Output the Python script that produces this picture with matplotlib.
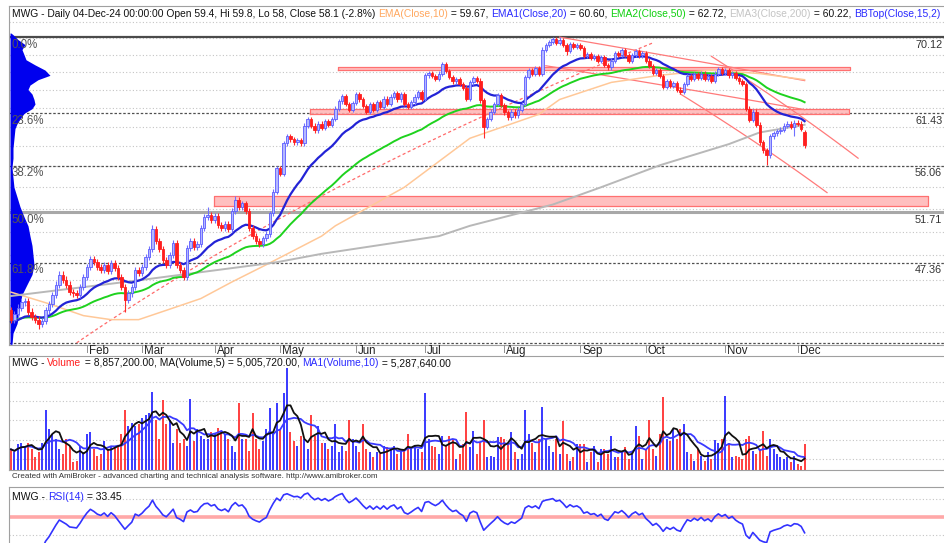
import numpy as np
import pandas as pd
import matplotlib
matplotlib.use("Agg")
import matplotlib.pyplot as plt
from matplotlib.transforms import blended_transform_factory

W, H, DPI = 944, 543, 100

# ---- daily closes, 02-Jan-24 .. 04-Dec-24 (HOSE trading days) ----
closes = [
    # Jan
    42.9, 43.3, 43.8, 44.2, 44.3, 43.5, 43.1, 42.9, 42.6, 42.8, 43.6, 44.1, 44.8, 45.6, 46.4, 46.0,
    45.6, 45.0, 44.9, 44.8, 45.4, 46.2,
    # Feb
    47.0, 47.7, 47.4, 47.0, 46.8, 47.2, 46.7, 47.3, 46.9, 46.2, 45.4, 44.4, 44.9, 45.4, 46.8, 46.5,
    # Mar
    47.0, 47.8, 48.5, 50.2, 49.2, 48.5, 47.6, 47.2, 48.0, 49.0, 47.2, 46.8, 46.2, 48.6, 49.2, 48.7,
    48.9, 50.3, 51.3, 51.5, 51.0,
    # Apr
    51.4, 50.6, 50.3, 50.7, 50.2, 51.8, 52.8, 52.2, 52.5, 51.8, 50.3, 49.6, 49.2, 48.9, 49.4, 49.8,
    51.6, 53.6, 55.8,
    # May
    55.3, 58.3, 59.0, 58.7, 58.4, 58.6, 58.3, 60.1, 60.8, 60.1, 59.6, 60.3, 59.9, 60.6, 60.2, 60.8,
    61.9, 62.7, 63.3, 62.4, 61.8, 62.5,
    # Jun
    63.5, 62.9, 62.2, 61.6, 62.4, 61.8, 62.6, 62.1, 63.0, 62.4, 63.2, 63.6, 62.9, 63.5, 62.4, 62.1,
    62.6, 63.2, 63.7, 63.0,
    # Jul
    65.6, 65.9, 65.5, 65.2, 65.8, 66.9, 66.1, 65.4, 64.9, 65.2, 64.6, 64.2, 63.0, 64.8, 65.3, 65.0,
    62.8, 60.0, 60.8, 61.6, 62.4, 63.4, 62.3,
    # Aug
    61.5, 61.0, 61.6, 61.2, 61.8, 62.4, 65.4, 66.2, 65.8, 66.4, 65.8, 68.6, 69.2, 69.5, 69.9, 69.4,
    69.8, 69.2, 68.4, 69.3, 68.9, 69.2,
    # Sep
    68.8, 67.8, 68.1, 67.6, 67.8, 67.3, 67.7, 66.8, 66.5, 67.3, 68.2, 68.0, 68.5, 68.0, 67.3, 68.0,
    68.4, 67.9, 68.2,
    # Oct
    67.3, 66.7, 65.9, 66.2, 65.5, 64.3, 64.9, 64.4, 64.7, 64.0, 63.7, 64.6, 65.5, 65.2, 65.7, 65.3,
    65.8, 65.2, 65.5, 65.0, 65.8, 66.3, 65.9,
    # Nov
    66.2, 65.6, 65.9, 65.3, 64.9, 64.6, 61.9, 60.7, 61.6, 60.2, 58.4, 57.6, 57.1, 59.0, 59.3, 59.5,
    59.7, 60.1, 60.3, 60.0, 60.4,
    # Dec
    60.3, 59.8, 58.1,
]
first_open = 43.6
last_open = 59.4
long_highs = {41: 50.6, 57: 52.2, 65: 53.2, 159: 70.12}
long_lows = {8: 42.2, 33: 43.5, 137: 58.8, 161: 68.0, 219: 56.1, 227: 59.0}

# volume in millions of shares
volumes = [
    7.5, 6.7, 8.8, 9.2, 8.4, 9.2, 7.5, 5.4, 6.7, 9.2, 17.6, 12.7, 11.4, 10.1, 7.5, 6.2,
    10.1, 8.4, 4.1, 4.5, 8.4, 6.7, 11.4, 11.9, 7.5, 5.8, 6.2, 9.7, 7.5, 8.0, 8.0, 8.4,
    11.4, 17.8, 13.5, 14.4, 13.5, 14.0, 15.7, 16.5, 17.0, 22.4, 15.2, 10.1, 20.4, 14.0,
    15.2, 9.2, 12.7, 9.2, 10.1, 8.4, 20.5, 9.7, 12.7, 11.0, 10.1, 10.1, 11.9, 11.4, 13.1,
    12.3, 11.4, 10.1, 8.4, 6.7, 19.6, 10.1, 10.1, 7.1, 16.8, 10.1, 7.5, 9.7, 12.7, 18.2,
    11.9, 19.4, 12.7, 22.0, 28.5, 11.9, 9.7, 8.4, 11.0, 10.1, 7.5, 16.5, 11.0, 13.5, 9.2,
    9.2, 7.5, 8.4, 14.0, 6.7, 8.4, 7.1, 15.0, 10.1, 8.4, 6.7, 14.0, 7.5, 6.7, 5.4, 6.7,
    6.2, 8.4, 8.0, 7.5, 8.4, 6.2, 7.1, 7.5, 11.6, 7.5, 8.4, 7.5, 6.7, 22.0, 10.1, 8.4,
    8.0, 6.2, 11.0, 8.4, 11.0, 10.1, 4.9, 6.2,
    8.8, 17.1, 8.0, 12.3, 6.2, 9.2, 15.2, 5.4, 5.8, 5.6, 10.6, 10.6, 10.3, 8.6, 11.9, 6.7,
    4.9, 6.2, 17.6, 11.4, 9.2, 6.7, 10.1, 18.6, 10.1, 8.4, 6.7, 10.1, 6.2, 14.8, 6.2, 4.5,
    5.4, 8.8, 8.8, 8.8, 4.1, 6.7, 8.4, 4.1, 7.5, 7.5, 6.2, 11.0, 5.4, 5.4, 6.7, 8.0, 4.9,
    6.7, 13.5, 11.0, 4.9, 7.5, 15.2, 7.5, 5.8, 11.4, 21.0, 10.1, 9.7, 12.7, 10.1, 12.7,
    14.0, 6.7, 6.2, 4.5, 7.5, 5.8, 4.5, 6.7, 4.9, 9.9, 9.2, 10.1, 21.3, 9.2, 5.4, 5.8, 5.4,
    4.9, 10.1, 11.0, 7.1, 6.2, 7.5, 12.3, 5.8, 10.1, 7.5, 6.2, 5.4, 4.9, 5.4, 4.1, 5.8,
    3.6, 3.2, 8.86,
]

month_names = ["Feb", "Mar", "Apr", "May", "Jun", "Jul", "Aug", "Sep", "Oct", "Nov", "Dec"]
month_starts = [22, 38, 59, 78, 100, 120, 143, 165, 184, 207, 228]

# smooth overlays (bar index, price)
orange_idx = [0, 11, 21, 29, 37, 45, 55, 64, 74, 90, 94, 114, 133, 153, 159, 174, 188, 203, 217, 230]
orange_vals = [45.0, 44.1, 43.2, 42.9, 42.9, 43.6, 44.5, 45.8, 47.2, 49.6, 50.5, 54.0, 58.8, 61.3,
               62.9, 64.8, 65.6, 66.2, 65.8, 65.1]
gray_idx = [0, 36, 77, 90, 124, 133, 157, 171, 188, 208, 217, 230]
gray_vals = [44.7, 45.9, 47.4, 48.1, 49.6, 50.5, 52.4, 54.0, 56.1, 58.2, 59.4, 60.2]
ema20_seed, ema50_seed = 42.7, 42.9

fib_pcts = [0.0, 23.6, 38.2, 50.0, 61.8, 78.6]
fib_prices = [70.12, 61.43, 56.06, 51.71, 47.36, 41.18]

# support/resistance zones: start bar, end bar, low, high
zones = [(94.8, 243.2, 66.25, 66.6), (86.7, 242.9, 61.3, 61.9), (58.8, 265.8, 52.3, 53.2)]
# trend lines: (bar, price) -> (bar, price)
trend_dashed = [(19, 41.2), (186, 69.4)]
trend_lines = [
    [(159, 70.1), (230, 65.0)],
    [(155, 66.7), (230, 61.8)],
    [(203, 67.8), (245.5, 56.8)],
    [(194, 63.5), (236.5, 53.5)],
]

# volume-at-price profile (relative)
profile_prices = [70.6, 70.4, 69.8, 69.2, 68.6, 68.0, 67.4, 66.8, 66.2, 65.6, 65.1, 64.5, 64.0,
                  63.5, 62.9, 62.4, 61.9, 61.4, 60.8, 60.3, 59.8, 58.8, 57.8, 56.8, 55.9, 54.9,
                  54.0, 53.1, 52.2, 51.3, 50.5, 49.6, 48.8, 48.0, 47.2, 46.4, 45.6, 44.8, 44.1,
                  43.3, 42.6, 41.9, 41.1]
profile_vol = [1, 3, 8, 15, 12, 14, 16, 25, 35, 40, 28, 20, 18, 22, 24, 25, 22, 14, 10, 7, 5, 4,
               3, 3, 2, 3, 4, 7, 10, 14, 18, 20, 22, 23, 24, 22, 17, 12, 10, 9, 7, 3, 2]

closes = np.array(closes)
volumes = np.array(volumes)
n = len(closes)
idx = np.arange(n)
opens = np.concatenate([[first_open], closes[:-1]])
opens[-1] = last_open
highs = np.maximum(opens, closes) + 0.25
lows = np.minimum(opens, closes) - 0.25
for k, v in long_highs.items():
    highs[k] = v
for k, v in long_lows.items():
    lows[k] = v
up = closes >= opens


def ema(values, span, seed):
    k = 2.0 / (span + 1)
    out, prev = [], seed
    for v in values:
        prev = prev + k * (v - prev)
        out.append(prev)
    return np.array(out)


def rsi(values, start, period=14):
    diffs = np.diff(np.concatenate([[start], values]))
    gain = pd.Series(np.clip(diffs, 0, None)).ewm(alpha=1 / period, adjust=False).mean()
    loss = pd.Series(np.clip(-diffs, 0, None)).ewm(alpha=1 / period, adjust=False).mean()
    return (100 - 100 / (1 + gain / (loss + 1e-9))).values


ema20 = ema(closes, 20, ema20_seed)
ema50 = ema(closes, 50, ema50_seed)
vol_ma5 = pd.Series(volumes).rolling(5, min_periods=1).mean()
vol_ma10 = pd.Series(volumes).rolling(10, min_periods=1).mean()
rsi14 = rsi(closes, first_open)

plt.rcParams["font.family"] = ["Liberation Sans", "DejaVu Sans"]
fig = plt.figure(figsize=(W / DPI, H / DPI), dpi=DPI)
fig.patch.set_facecolor("white")


def fig_axes(x0, y0, x1, y1):
    return fig.add_axes([x0 / W, 1 - y1 / H, (x1 - x0) / W, (y1 - y0) / H])


XLIM = (-0.58, 270.4)
ax = fig_axes(9, 6, 944, 345)
axv = fig_axes(9, 356, 944, 470)
axr = fig_axes(9, 487, 944, 560)

for a in (ax, axv, axr):
    a.set_xlim(*XLIM)
    a.set_xticks([])
    a.set_yticks([])
    for s in a.spines.values():
        s.set_color("#a0a0a0")
        s.set_linewidth(0.8)
    a.spines["right"].set_visible(False)

# ---- price pane ----
ax.set_yscale("log")
ax.set_ylim(41.05, 74.0)
ax.yaxis.set_minor_locator(matplotlib.ticker.NullLocator())
ax.yaxis.set_major_locator(matplotlib.ticker.NullLocator())
for g in range(42, 74, 2):
    ax.axhline(g, color="#c4c4c4", lw=0.8, dashes=(1, 2), zorder=0)

for pct, p in zip(fib_pcts, fib_prices):
    if pct == 0.0:
        ax.axhline(p, color="#4a4a4a", lw=1.6, zorder=1)
    elif pct == 50.0:
        ax.axhline(p, color="#a8a8a8", lw=2.2, zorder=1)
    else:
        ax.axhline(p, color="#505050", lw=0.9, dashes=(2, 1.5), zorder=1)

xtr = blended_transform_factory(ax.transAxes, ax.transData)
prof_x = np.array(profile_vol) / max(profile_vol) * 40 / 935
ax.fill_betweenx(profile_prices, 1 / 935, 1 / 935 + prof_x, transform=xtr, color="#0000ee",
                 lw=0, zorder=2)

for pct, p in zip(fib_pcts, fib_prices):
    ax.annotate(f"{pct:.1f}%", xy=(0, p), xycoords=xtr, xytext=(2, -5.5), textcoords="offset points",
                va="center", ha="left", fontsize=8.3, color="#555555", zorder=6, clip_on=True)
    ax.annotate(f"{p:.2f}", xy=(906 / 935, p), xycoords=xtr, xytext=(0, -5.5),
                textcoords="offset points", va="center", ha="left", fontsize=7.8, color="#333333",
                zorder=6, clip_on=True)

for x0, x1, lo, hi in zones:
    ax.fill_between([x0, x1], lo, hi, color="#ffb4b4", alpha=0.85, lw=0, zorder=2)
    ax.plot([x0, x1, x1, x0, x0], [lo, lo, hi, hi, lo], color="#ff7070", lw=0.9, zorder=2)


def price_line(p0, p1, **kw):
    t = np.linspace(0, 1, 60)
    ax.plot(p0[0] + (p1[0] - p0[0]) * t, p0[1] + (p1[1] - p0[1]) * t, **kw)


price_line(*trend_dashed, color="#ff6a6a", lw=0.9, dashes=(2.5, 2), zorder=3)
for seg in trend_lines:
    price_line(*seg, color="#ff7a7a", lw=0.9, zorder=3)

ax.plot(orange_idx, orange_vals, color="#ffc898", lw=1.1, zorder=3)
ax.plot(gray_idx, gray_vals, color="#b8b8b8", lw=1.4, zorder=3)
ax.plot(idx, ema50, color="#1ed21e", lw=1.4, zorder=4)
ax.plot(idx, ema20, color="#2323d6", lw=1.6, zorder=4)

body_w = 0.72
ax.vlines(idx[up], lows[up], highs[up], color="#7070ff", lw=0.8, zorder=5)
ax.vlines(idx[~up], lows[~up], highs[~up], color="#ff2a2a", lw=0.8, zorder=5)
ax.bar(idx[up], closes[up] - opens[up], bottom=opens[up], width=body_w, color="#b4b8ff",
       edgecolor="#5a5aff", lw=0.6, zorder=5)
ax.bar(idx[~up], opens[~up] - closes[~up], bottom=closes[~up], width=body_w, color="#ff1e1e",
       edgecolor="#ff1e1e", lw=0.6, zorder=5)

# date strip
for m, i in zip(month_names, month_starts):
    fig.lines.append(plt.Line2D([(11 + 3.45 * i) / W] * 2, [1 - 345 / H, 1 - 352 / H],
                                transform=fig.transFigure, color="#909090", lw=0.7))
    fig.text((13 + 3.45 * i) / W, 1 - 351 / H, m, fontsize=8.3, color="#222222", va="center")

# ---- volume pane ----
axv.set_ylim(2.15, 31.7)
for g in (5, 10, 15, 20, 25):
    axv.axhline(g, color="#c4c4c4", lw=0.8, dashes=(1, 2), zorder=0)
axv.vlines(idx[up], 2.15, volumes[up], color="#2a2aff", lw=1.3, zorder=2)
axv.vlines(idx[~up], 2.15, volumes[~up], color="#ff3030", lw=1.3, zorder=2)
axv.plot(idx, vol_ma10, color="#3a3aff", lw=1.3, zorder=3)
axv.plot(idx, vol_ma5, color="#111111", lw=1.3, zorder=3)

# ---- RSI pane ----
axr.set_ylim(50 - (560 - 517) / 0.9, 50 + (517 - 487) / 0.9)
for g in (30, 70):
    axr.axhline(g, color="#c4c4c4", lw=0.8, dashes=(1, 2), zorder=0)
axr.axhline(50, color="#ffa8a8", lw=2.6, zorder=1)
axr.plot(idx, rsi14, color="#3333ff", lw=1.2, zorder=3)

# ---- titles ----
fig.canvas.draw()
renderer = fig.canvas.get_renderer()


def colored_text(x_px, y_px, pieces, size):
    x = x_px
    for text, color in pieces:
        t = fig.text(x / W, 1 - y_px / H, text, color=color, fontsize=size, va="center", ha="left")
        x += t.get_window_extent(renderer).width


colored_text(12, 14, [
    ("MWG - Daily 04-Dec-24 00:00:00 Open 59.4, Hi 59.8, Lo 58, Close 58.1 (-2.8%) ", "#111111"),
    ("EMA(Close,10)", "#ffa860"), (" = 59.67, ", "#111111"),
    ("EMA1(Close,20)", "#2a2aff"), (" = 60.60, ", "#111111"),
    ("EMA2(Close,50)", "#10d010"), (" = 62.72, ", "#111111"),
    ("EMA3(Close,200)", "#c4c4c4"), (" = 60.22, ", "#111111"),
    ("BBTop(Close,15,2)", "#2a2aff"),
], 7.36)
colored_text(12, 363, [
    ("MWG - ", "#111111"), ("Volume", "#ff2020"),
    (" = 8,857,200.00, MA(Volume,5) = 5,005,720.00, ", "#111111"),
    ("MA1(Volume,10)", "#2a2aff"), (" = 5,287,640.00", "#111111"),
], 7.4)
fig.text(12 / W, 1 - 477 / H,
         "Created with AmiBroker - advanced charting and technical analysis software. http://www.amibroker.com",
         fontsize=5.8, color="#333333", va="center")
colored_text(12, 497, [("MWG - ", "#111111"), ("RSI(14)", "#2a2aff"), (" = 33.45", "#111111")], 7.5)

fig.savefig("out.png", dpi=DPI)
